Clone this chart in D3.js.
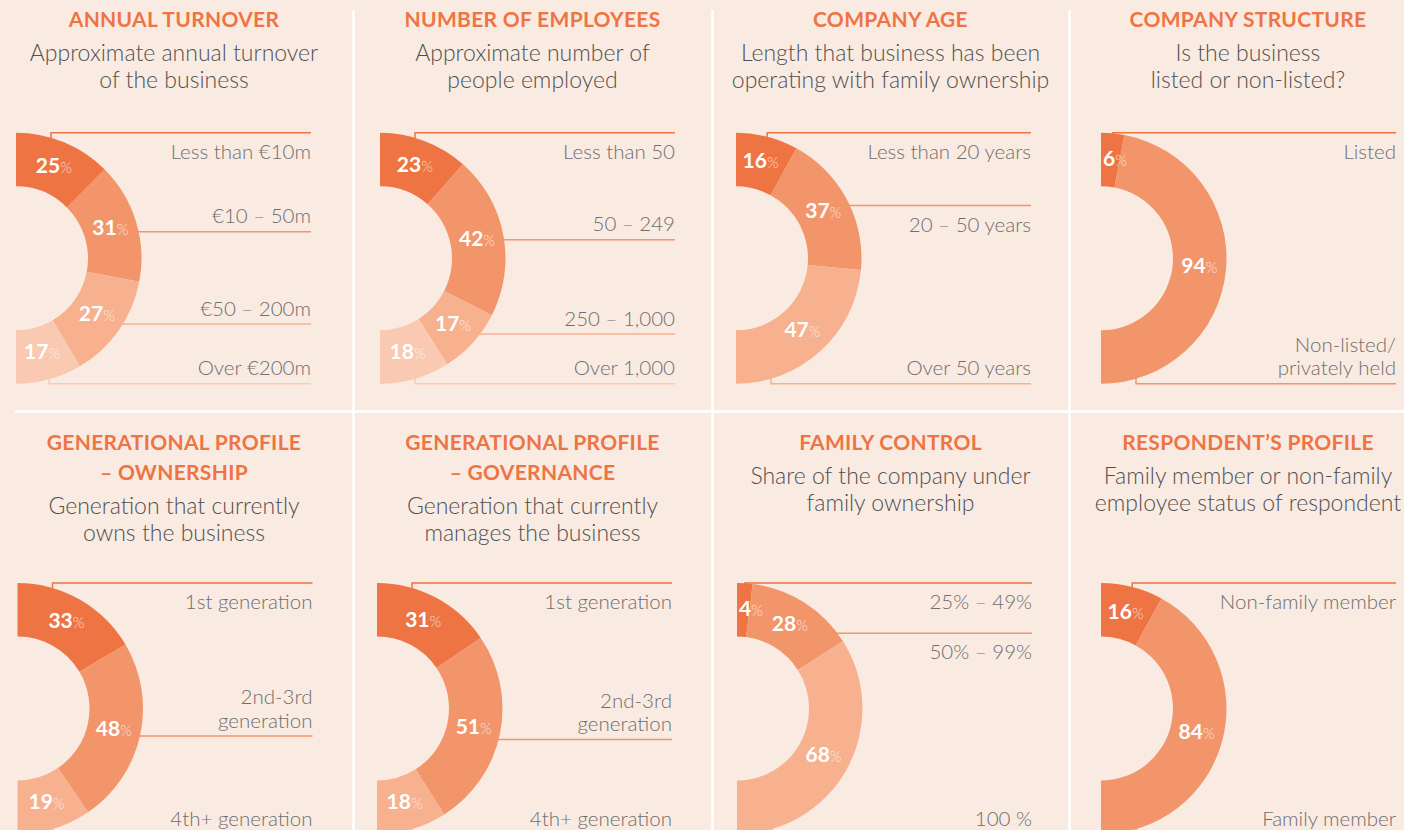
<!DOCTYPE html>
<html>
<head>
<meta charset="utf-8">
<script src="https://cdn.jsdelivr.net/npm/d3@7"></script>
<style>
  html, body { margin: 0; padding: 0; background: #faebe2; }
  svg { display: block; }
</style>
</head>
<body>
<svg width="1404" height="830"></svg>
<script>
const titles = [
  ["ANNUAL TURNOVER"],
  ["NUMBER OF EMPLOYEES"],
  ["COMPANY AGE"],
  ["COMPANY STRUCTURE"],
  ["GENERATIONAL PROFILE", "– OWNERSHIP"],
  ["GENERATIONAL PROFILE", "– GOVERNANCE"],
  ["FAMILY CONTROL"],
  ["RESPONDENT’S PROFILE"]
];

const subtitles = [
  ["Approximate annual turnover", "of the business"],
  ["Approximate number of", "people employed"],
  ["Length that business has been", "operating with family ownership"],
  ["Is the business", "listed or non-listed?"],
  ["Generation that currently", "owns the business"],
  ["Generation that currently", "manages the business"],
  ["Share of the company under", "family ownership"],
  ["Family member or non-family", "employee status of respondent"]
];

const categories = [
  [["Less than €10m"], ["€10 – 50m"], ["€50 – 200m"], ["Over €200m"]],
  [["Less than 50"], ["50 – 249"], ["250 – 1,000"], ["Over 1,000"]],
  [["Less than 20 years"], ["20 – 50 years"], ["Over 50 years"]],
  [["Listed"], ["Non-listed/", "privately held"]],
  [["1st generation"], ["2nd-3rd", "generation"], ["4th+ generation"]],
  [["1st generation"], ["2nd-3rd", "generation"], ["4th+ generation"]],
  [["25% – 49%"], ["50% – 99%"], ["100 %"]],
  [["Non-family member"], ["Family member"]]
];

const values = [
  [25, 31, 27, 17],
  [23, 42, 17, 18],
  [16, 37, 47],
  [6, 94],
  [33, 48, 19],
  [31, 51, 18],
  [4, 28, 68],
  [16, 84]
];

// where each category's leader line sits (0 = top of donut, 1 = bottom) and which side the label goes
const leaders = [
  [[0, "below"], [0.394, "above"], [0.762, "above"], [1, "above"]],
  [[0, "below"], [0.426, "above"], [0.802, "above"], [1, "above"]],
  [[0, "below"], [0.29, "below"], [1, "above"]],
  [[0, "below"], [1, "above"]],
  [[0, "below"], [0.61, "above"], [1, "above"]],
  [[0, "below"], [0.624, "above"], [1, "above"]],
  [[0, "below"], [0.2, "below"], [1, "above"]],
  [[0, "below"], [1, "above"]]
];

const svg = d3.select("svg");
const width = 1404;
const height = 830;
const colors = ["#ee7444", "#f3956b", "#f7b18f", "#f9c9b1"];
const R = 125.5;
const r = 72;
const colTitleX = [174, 532.5, 890.5, 1248];
const centerX = [[16, 380, 736, 1101], [17.5, 377, 737, 1101]];
const rowCY = [258.3, 708.5];
const rowTitleY = [27, 450];
const font = "Lato, 'Open Sans', sans-serif";

svg.append("rect").attr("width", width).attr("height", height).attr("fill", "#faebe2");

// white grid dividers
[353.5, 712.5, 1069.5].forEach(x => {
  svg.append("line")
    .attr("x1", x).attr("x2", x).attr("y1", 10).attr("y2", height)
    .attr("stroke", "#ffffff").attr("stroke-width", 2.5);
});
svg.append("line")
  .attr("x1", 15).attr("x2", width).attr("y1", 411.5).attr("y2", 411.5)
  .attr("stroke", "#ffffff").attr("stroke-width", 2.5);

const pie = d3.pie().sort(null).startAngle(0).endAngle(Math.PI);
const arc = d3.arc().innerRadius(r).outerRadius(R);

titles.forEach((t, i) => {
  const row = Math.floor(i / 4);
  const col = i % 4;
  const cx = centerX[row][col];
  const cy = rowCY[row];
  const g = svg.append("g");

  // title + subtitle
  t.forEach((line, j) => {
    g.append("text")
      .attr("x", colTitleX[col]).attr("y", rowTitleY[row] + j * 30)
      .attr("text-anchor", "middle")
      .attr("font-family", font).attr("font-weight", 700).attr("font-size", 21)
      .attr("letter-spacing", 0.3)
      .attr("fill", "#ee7444")
      .text(line);
  });
  const subY = rowTitleY[row] + (t.length - 1) * 30 + 34;
  subtitles[i].forEach((line, j) => {
    g.append("text")
      .attr("x", colTitleX[col]).attr("y", subY + j * 26.5)
      .attr("text-anchor", "middle")
      .attr("font-family", font).attr("font-weight", 300).attr("font-size", 23)
      .attr("fill", "#505050")
      .text(line);
  });

  const arcs = pie(values[i]);
  const yScale = d3.scaleLinear().domain([0, 1]).range([cy - R, cy + R]);
  const right = cx + 295;
  const n = values[i].length;

  // leader lines
  leaders[i].forEach(([f, side], k) => {
    const y = yScale(f);
    const mid = (arcs[k].startAngle + arcs[k].endAngle) / 2;
    const bx = cx + Math.min(35, R * Math.sin(mid));
    let p;
    if (k === 0) p = `M${bx},${y + 20}V${y}H${right}`;
    else if (k === n - 1 && f === 1) p = `M${bx},${y - 20}V${y}H${right}`;
    else {
      const dy = y - cy;
      const x0 = cx + Math.sqrt(Math.max(0, R * R - dy * dy)) - 3;
      p = `M${x0},${y}H${right}`;
    }
    g.append("path")
      .attr("d", p)
      .attr("fill", "none")
      .attr("stroke", colors[k]).attr("stroke-width", 1.5);

    const lines = categories[i][k];
    lines.forEach((txt, j) => {
      const ly = side === "below"
        ? y + 26 + j * 23.5
        : y - 8.5 - (lines.length - 1 - j) * 23.5;
      g.append("text")
        .attr("x", right).attr("y", ly)
        .attr("text-anchor", "end")
        .attr("font-family", font).attr("font-weight", 300).attr("font-size", 20.5)
        .attr("fill", "#6e6e6e")
        .text(txt);
    });
  });

  // half donut
  const donut = g.append("g").attr("transform", `translate(${cx},${cy})`);
  donut.selectAll("path")
    .data(arcs)
    .join("path")
    .attr("d", arc)
    .attr("fill", (d, k) => colors[k]);

  // percentage labels
  arcs.forEach((d, k) => {
    const c = arc.centroid(d);
    const label = donut.append("text")
      .attr("y", c[1]).attr("dy", "0.36em")
      .attr("text-anchor", "middle")
      .attr("font-family", font);
    label.append("tspan")
      .attr("font-weight", 700).attr("font-size", 21)
      .attr("fill", "#ffffff")
      .text(d.data);
    label.append("tspan")
      .attr("font-weight", 300).attr("font-size", 15)
      .attr("fill", "#ffffff").attr("fill-opacity", 0.75)
      .text("%");
    const w = label.node().getComputedTextLength();
    label.attr("x", Math.max(c[0], w / 2 + 2));
  });
});
</script>
</body>
</html>
